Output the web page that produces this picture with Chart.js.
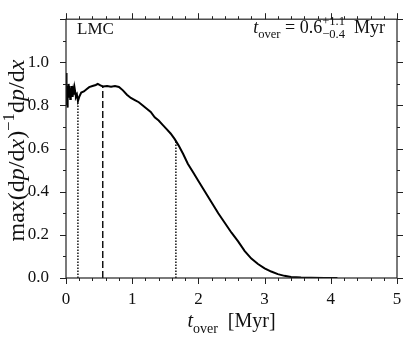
<!DOCTYPE html>
<html>
<head>
<meta charset="utf-8">
<script src="https://cdn.jsdelivr.net/npm/chart.js@4.4.0/dist/chart.umd.min.js"></script>
<style>
  html, body { margin: 0; padding: 0; background: #fff; }
  #wrap { width: 411px; height: 337px; position: relative; }
</style>
</head>
<body>
<div id="wrap"><canvas id="grafico"></canvas></div>
<script>
// Dados
const tOver = [0, 0.004, 0.008, 0.012, 0.016, 0.022, 0.028, 0.034, 0.040, 0.048, 0.056, 0.064, 0.072, 0.080,
    0.090, 0.100, 0.110, 0.120, 0.130, 0.140, 0.150, 0.165, 0.18, 0.20, 0.23, 0.27, 0.31, 0.35, 0.40, 0.45,
    0.48, 0.52, 0.56, 0.62, 0.68, 0.74, 0.80, 0.86, 0.92, 0.98, 1.04, 1.10, 1.16, 1.22, 1.28, 1.34, 1.40,
    1.46, 1.52, 1.58, 1.64, 1.70, 1.77, 1.84, 1.92, 2.00, 2.10, 2.20, 2.30, 2.40, 2.50, 2.60, 2.70, 2.80,
    2.90, 3.00, 3.10, 3.20, 3.30, 3.40, 3.55, 3.70, 3.90, 4.10];
const ratio = [0.95, 0.80, 0.90, 0.83, 0.89, 0.79, 0.88, 0.84, 0.90, 0.85, 0.89, 0.83, 0.88, 0.85,
    0.89, 0.84, 0.87, 0.85, 0.88, 0.86, 0.84, 0.85, 0.82, 0.84, 0.86, 0.865, 0.875, 0.885, 0.89, 0.895,
    0.90, 0.893, 0.888, 0.89, 0.887, 0.89, 0.886, 0.87, 0.85, 0.835, 0.825, 0.815, 0.80, 0.785, 0.77, 0.745, 0.73,
    0.71, 0.69, 0.67, 0.645, 0.615, 0.575, 0.53, 0.49, 0.45, 0.40, 0.35, 0.30, 0.255, 0.21, 0.17, 0.125, 0.09,
    0.065, 0.045, 0.03, 0.018, 0.01, 0.005, 0.002, 0.001, 0.0, 0.0];

// Linhas verticais: limite inferior, mediana, limite superior
const marcadorT = [0.18, 0.555, 1.66];
const marcadorTopo = [0.82, 0.89, 0.64];
const marcadorTraco = [[1.5, 1.5], [7, 3], [1.5, 1.5]];

const xMajor = [0, 1, 2, 3, 4, 5];
const yMajor = [0, 0.2, 0.4, 0.6, 0.8, 1.0, 1.2];

const serif = "'Liberation Serif', 'DejaVu Serif', serif";

// Texto com partes em itálico, sobrescrito e subscrito
function medirTexto(ctx, partes, tam) {
    let w = 0;
    partes.forEach(p => {
        ctx.font = (p.i ? 'italic ' : '') + (tam * (p.s || 1)) + 'px ' + serif;
        if (!p.sem) w += ctx.measureText(p.t).width;
    });
    return w;
}

function desenharTexto(ctx, partes, tam, x, y, alinhar) {
    const w = medirTexto(ctx, partes, tam);
    let cx = x;
    if (alinhar === 'center') cx = x - w / 2;
    if (alinhar === 'right') cx = x - w;
    ctx.textBaseline = 'alphabetic';
    ctx.textAlign = 'left';
    partes.forEach(p => {
        ctx.font = (p.i ? 'italic ' : '') + (tam * (p.s || 1)) + 'px ' + serif;
        ctx.fillText(p.t, cx, y + (p.dy || 0) * tam);
        if (!p.sem) cx += ctx.measureText(p.t).width;
    });
}

const molduraPlugin = {
    id: 'moldura',
    afterDraw(chart) {
        const ctx = chart.ctx;
        const a = chart.chartArea;
        const sx = chart.scales.x, sy = chart.scales.y;
        ctx.save();
        ctx.strokeStyle = '#222';
        ctx.lineWidth = 1.2;
        ctx.strokeRect(a.left, a.top, a.right - a.left, a.bottom - a.top);

        // marcas dos eixos (para fora, nos quatro lados)
        ctx.lineWidth = 1;
        ctx.beginPath();
        for (let v = 0; v <= 5.001; v += 0.2) {
            const maior = xMajor.some(m => Math.abs(m - v) < 1e-6);
            const L = maior ? 6 : 3;
            const px = Math.round(sx.getPixelForValue(v)) + 0.5;
            ctx.moveTo(px, a.bottom); ctx.lineTo(px, a.bottom + L);
            ctx.moveTo(px, a.top); ctx.lineTo(px, a.top - L);
        }
        for (let v = 0; v <= 1.2001; v += 0.1) {
            const maior = yMajor.some(m => Math.abs(m - v) < 1e-6);
            const L = maior ? 6 : 3;
            const py = Math.round(sy.getPixelForValue(v)) + 0.5;
            ctx.moveTo(a.left, py); ctx.lineTo(a.left - L, py);
            ctx.moveTo(a.right, py); ctx.lineTo(a.right + L, py);
        }
        ctx.stroke();

        ctx.fillStyle = '#111';
        // título do eixo x
        desenharTexto(ctx, [
            { t: 't', i: true },
            { t: 'over', s: 0.7, dy: 0.28 },
            { t: '  [Myr]' }
        ], 20, (a.left + a.right) / 2, 327, 'center');

        // título do eixo y
        ctx.save();
        ctx.translate(24, (a.top + a.bottom) / 2 + 2);
        ctx.rotate(-Math.PI / 2);
        desenharTexto(ctx, [
            { t: 'max(d' }, { t: 'p', i: true }, { t: '/d' }, { t: 'x', i: true }, { t: ')' },
            { t: '\u22121', s: 0.7, dy: -0.4 },
            { t: 'd' }, { t: 'p', i: true }, { t: '/d' }, { t: 'x', i: true }
        ], 24, 0, 0, 'center');
        ctx.restore();

        // anotações
        desenharTexto(ctx, [{ t: 'LMC' }], 17, a.left + 11, 34, 'left');
        desenharTexto(ctx, [
            { t: 't', i: true },
            { t: 'over', s: 0.7, dy: 0.25 },
            { t: ' = 0.6' },
            { t: '+1.1', s: 0.7, dy: -0.42, sem: true },
            { t: '\u22120.4', s: 0.7, dy: 0.3 },
            { t: '  Myr' }
        ], 18, a.right - 12, 33, 'right');
        ctx.restore();
    }
};

const datasets = [{
    data: tOver.map((t, i) => ({ x: t, y: ratio[i] })),
    borderColor: '#000',
    borderWidth: 2,
    pointRadius: 0,
    showLine: true,
    tension: 0
}];
marcadorT.forEach((t, i) => {
    datasets.push({
        data: [{ x: t, y: 0 }, { x: t, y: marcadorTopo[i] }],
        borderColor: '#111',
        borderWidth: 1.5,
        borderDash: marcadorTraco[i],
        pointRadius: 0,
        showLine: true
    });
});

new Chart(document.getElementById('grafico'), {
    type: 'scatter',
    data: { datasets: datasets },
    options: {
        responsive: true,
        maintainAspectRatio: false,
        animation: false,
        layout: { padding: { top: 12, right: 14, left: 0, bottom: 0 } },
        plugins: { legend: { display: false }, tooltip: { enabled: false } },
        scales: {
            x: {
                type: 'linear',
                min: 0, max: 5,
                grid: { display: false },
                border: { display: false },
                ticks: {
                    stepSize: 1,
                    color: '#111',
                    padding: 3,
                    maxRotation: 0,
                    font: { family: serif, size: 17 },
                    callback: v => String(v)
                },
                afterFit: s => { s.height = 59; }
            },
            y: {
                min: 0, max: 1.2,
                grid: { display: false },
                border: { display: false },
                ticks: {
                    stepSize: 0.2,
                    color: '#111',
                    padding: 9,
                    font: { family: serif, size: 17 },
                    callback: v => (v > 1.1 ? '' : v.toFixed(1))
                },
                afterFit: s => { s.width = 66; }
            }
        }
    },
    plugins: [molduraPlugin]
});
</script>
</body>
</html>
